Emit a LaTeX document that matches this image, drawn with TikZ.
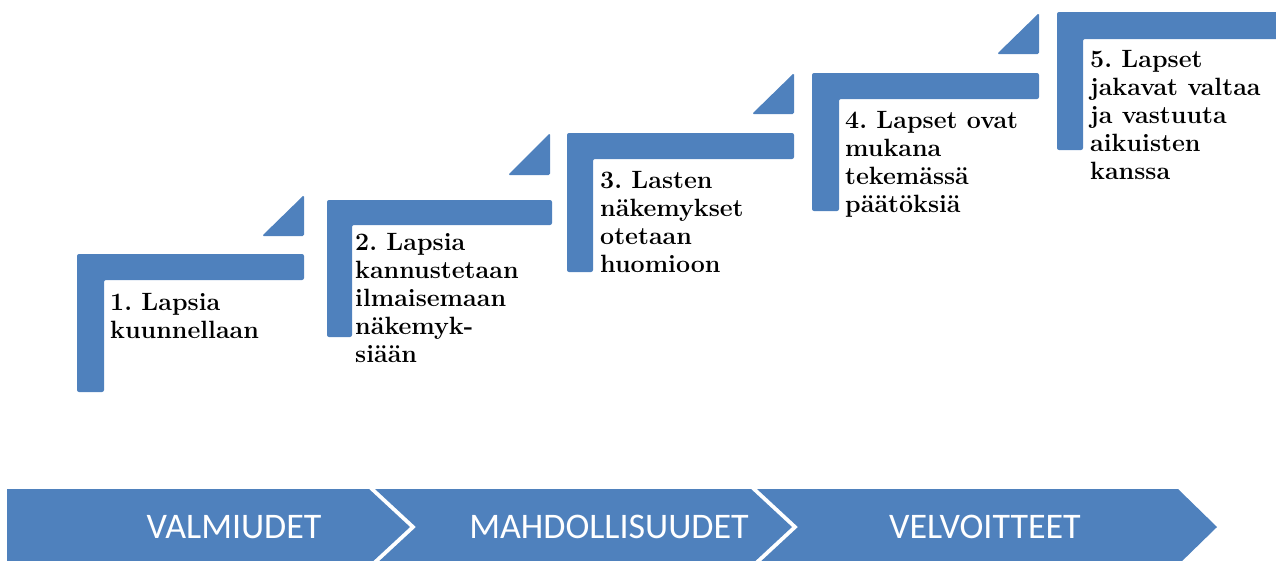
\documentclass[tikz,border=0pt]{standalone}
\usepackage{fontspec}
\newfontfamily\phasefont{Carlito}
\definecolor{stepblue}{HTML}{4F81BD}
\frenchspacing
\tikzset{
  stepbar/.style={fill=stepblue, draw=none, rounded corners=2pt},
  steptri/.style={fill=stepblue, draw=none, rounded corners=1.5pt},
  steptext/.style={anchor=north west, inner sep=0pt, align=left,
    font=\fontsize{25}{28}\selectfont\bfseries},
  phase/.style={fill=stepblue, draw=none},
  phasetext/.style={text=white, inner sep=0pt,
    font=\phasefont\fontsize{36}{40}\selectfont}
}
\begin{document}
\begin{tikzpicture}[x=1pt,y=-1pt]
                    \clip (0,0) rectangle (1276,560);

                    % Drawing step 1
                    \draw [stepbar] (77,254) -- (304,254) -- (304,280) -- (104,280) -- (104,392) -- (77,392) -- cycle;%
                    \draw [steptri] (262,236) -- (304,236) -- (304,195) -- cycle;%
                    \node [steptext] (s1) at (110,292.8) {1. Lapsia\\kuunnellaan};%

                    % Drawing step 2
                    \draw [stepbar] (327,200) -- (552,200) -- (552,225) -- (352,225) -- (352,337) -- (327,337) -- cycle;%
                    \draw [steptri] (508,175) -- (550,175) -- (550,133) -- cycle;%
                    \node [steptext] (s2) at (355,232.8) {2. Lapsia\\kannustetaan\\ilmaisemaan\\näkemyk-\\siään};%

                    % Drawing step 3
                    \draw [stepbar] (567,133) -- (794,133) -- (794,159) -- (593,159) -- (593,272) -- (567,272) -- cycle;%
                    \draw [steptri] (752,114) -- (794,114) -- (794,73) -- cycle;%
                    \node [steptext] (s3) at (600,170.8) {3. Lasten\\näkemykset\\otetaan\\huomioon};%

                    % Drawing step 4
                    \draw [stepbar] (812,73) -- (1039,73) -- (1039,99) -- (839,99) -- (839,211) -- (812,211) -- cycle;%
                    \draw [steptri] (997,54) -- (1039,54) -- (1039,13) -- cycle;%
                    \node [steptext] (s4) at (845,110.8) {4. Lapset ovat\\mukana\\tekemässä\\päätöksiä};%

                    % Drawing step 5
                    \draw [stepbar] (1057,12) -- (1284,12) -- (1284,39) -- (1083,39) -- (1083,150) -- (1057,150) -- cycle;%
                    \node [steptext] (s5) at (1090,49.8) {5. Lapset\\jakavat valtaa\\ja vastuuta\\aikuisten\\kanssa};%

                    % Drawing phase arrows
                    \draw [phase] (7,489) -- (369,489) -- (410,527) -- (369,565) -- (7,565) -- cycle;%
                    \draw [phase] (375,489) -- (751,489) -- (792,527) -- (751,565) -- (375,565) -- (416,527) -- cycle;%
                    \draw [phase] (757,489) -- (1178,489) -- (1217,527) -- (1178,565) -- (757,565) -- (798,527) -- cycle;%

                    % Marking phase names
                    \node [phasetext] (p1) at (234,527) {VALMIUDET};%
                    \node [phasetext] (p2) at (609,527) {MAHDOLLISUUDET};%
                    \node [phasetext] (p3) at (985,527) {VELVOITTEET};%
\end{tikzpicture}
\end{document}
